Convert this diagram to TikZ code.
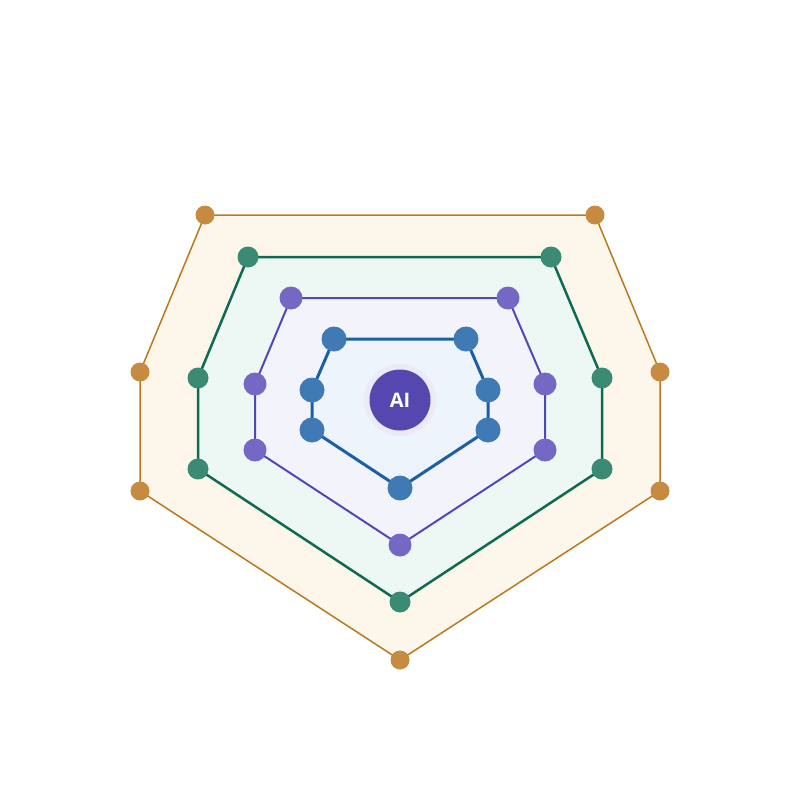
\documentclass[tikz,border=0pt]{standalone}
\usepackage{fontspec}
\setsansfont{Open Sans}
\definecolor{oFill}{HTML}{FDF6EA}
\definecolor{oLine}{HTML}{B8791F}
\definecolor{oDot}{HTML}{C68B40}
\definecolor{gFill}{HTML}{EDF8F4}
\definecolor{gLine}{HTML}{0E6B52}
\definecolor{gDot}{HTML}{3A8A74}
\definecolor{pFill}{HTML}{F3F3FC}
\definecolor{pLine}{HTML}{5546B8}
\definecolor{pDot}{HTML}{7468C4}
\definecolor{bFill}{HTML}{EDF4FC}
\definecolor{bLine}{HTML}{1C5FA5}
\definecolor{bDot}{HTML}{3F7AB5}
\definecolor{aiCol}{HTML}{5448B0}
\definecolor{haloCol}{HTML}{ECE9F9}
\tikzset{
  dotO/.style={circle,fill=oDot,inner sep=0pt,minimum size=19pt},
  dotG/.style={circle,fill=gDot,inner sep=0pt,minimum size=21pt},
  dotP/.style={circle,fill=pDot,inner sep=0pt,minimum size=23pt},
  dotB/.style={circle,fill=bDot,inner sep=0pt,minimum size=25pt},
}
\begin{document}
\begin{tikzpicture}[x=1pt,y=-1pt]
\useasboundingbox (0,0) rectangle (800,800);
% orange ring
\coordinate (o1) at (205,215); \coordinate (o2) at (595,215); \coordinate (o3) at (660,372);
\coordinate (o4) at (660,491); \coordinate (o5) at (400,660); \coordinate (o6) at (140,491);
\coordinate (o7) at (140,372);
\filldraw[fill=oFill,draw=oLine,line width=1.5pt,line join=round] (o1)--(o2)--(o3)--(o4)--(o5)--(o6)--(o7)--cycle;
% green ring
\coordinate (g1) at (248,257); \coordinate (g2) at (551,257); \coordinate (g3) at (602,378);
\coordinate (g4) at (602,469); \coordinate (g5) at (400,602); \coordinate (g6) at (198,469);
\coordinate (g7) at (198,378);
\filldraw[fill=gFill,draw=gLine,line width=2.5pt,line join=round] (g1)--(g2)--(g3)--(g4)--(g5)--(g6)--(g7)--cycle;
% purple ring
\coordinate (p1) at (291,298); \coordinate (p2) at (508,298); \coordinate (p3) at (545,384);
\coordinate (p4) at (545,450); \coordinate (p5) at (400,545); \coordinate (p6) at (255,450);
\coordinate (p7) at (255,384);
\filldraw[fill=pFill,draw=pLine,line width=2pt,line join=round] (p1)--(p2)--(p3)--(p4)--(p5)--(p6)--(p7)--cycle;
% blue ring
\coordinate (b1) at (334,339); \coordinate (b2) at (466,339); \coordinate (b3) at (488,390);
\coordinate (b4) at (488,430); \coordinate (b5) at (400,488); \coordinate (b6) at (312,430);
\coordinate (b7) at (312,390);
\filldraw[fill=bFill,draw=bLine,line width=3pt,line join=round] (b1)--(b2)--(b3)--(b4)--(b5)--(b6)--(b7)--cycle;
% dots
\foreach \i in {1,...,7} {
  \node[dotO] (O\i) at (o\i) {};
  \node[dotG] (G\i) at (g\i) {};
  \node[dotP] (P\i) at (p\i) {};
  \node[dotB] (B\i) at (b\i) {};
}
% center
\node[circle,fill=haloCol,inner sep=0pt,minimum size=72pt] (halo) at (400,400) {};
\node[circle,fill=aiCol,inner sep=0pt,minimum size=61pt,text=white,font=\sffamily\bfseries\fontsize{20}{24}\selectfont] (ai) at (400,400) {AI};
\end{tikzpicture}
\end{document}
